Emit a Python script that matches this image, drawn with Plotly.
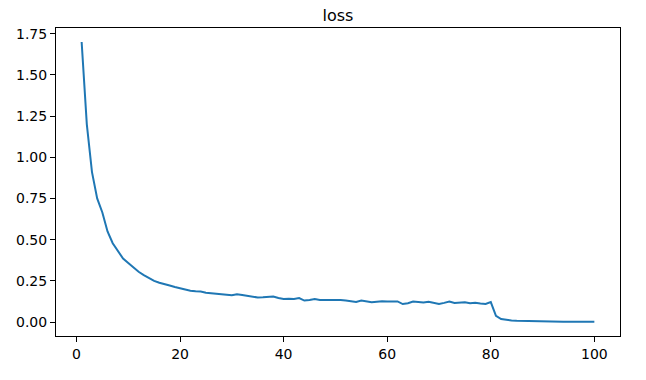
import plotly.graph_objects as go

epochs = list(range(1, 101))
loss = [
    1.700, 1.200, 0.910, 0.750, 0.665, 0.550, 0.478, 0.430, 0.385, 0.358,
    0.330, 0.305, 0.285, 0.265, 0.250, 0.238, 0.232, 0.222, 0.213, 0.205,
    0.197, 0.190, 0.186, 0.185, 0.178, 0.176, 0.173, 0.170, 0.166, 0.163,
    0.169, 0.164, 0.158, 0.156, 0.149, 0.150, 0.152, 0.155, 0.146, 0.140,
    0.141, 0.140, 0.145, 0.130, 0.134, 0.139, 0.133, 0.134, 0.132, 0.135,
    0.133, 0.130, 0.126, 0.122, 0.130, 0.127, 0.120, 0.123, 0.126, 0.124,
    0.124, 0.125, 0.109, 0.114, 0.124, 0.120, 0.118, 0.123, 0.117, 0.109,
    0.116, 0.124, 0.115, 0.116, 0.120, 0.114, 0.117, 0.113, 0.110, 0.121,
    0.038, 0.018, 0.012, 0.009, 0.007, 0.006, 0.005, 0.004, 0.0035, 0.003,
    0.0027, 0.0024, 0.0022, 0.002, 0.0018, 0.0016, 0.0014, 0.0013, 0.0012, 0.001,
]
x_ticks = [0, 20, 40, 60, 80, 100]
y_ticks = [0.00, 0.25, 0.50, 0.75, 1.00, 1.25, 1.50, 1.75]

fig = go.Figure(go.Scatter(x=epochs, y=loss, mode="lines",
                           line=dict(color="#1f77b4", width=2)))

fig.update_layout(
    width=646, height=380,
    margin=dict(l=56, r=26, t=28, b=44),
    paper_bgcolor="white", plot_bgcolor="white",
    font=dict(family="DejaVu Sans", size=14, color="black"),
    showlegend=False,
    title=dict(text="loss", x=0.5, xref="paper", xanchor="center",
               y=1 - 15 / 380, yref="container", yanchor="middle",
               font=dict(size=16, color="black")),
)
fig.update_xaxes(range=[-3.95, 104.95], tickvals=x_ticks, ticks="outside",
                 ticklen=5, tickwidth=1, tickcolor="black", showline=True,
                 linecolor="black", linewidth=1, mirror=True, showgrid=False,
                 zeroline=False)
fig.update_yaxes(range=[-0.085, 1.785], tickvals=y_ticks, tickformat=".2f",
                 ticks="outside", ticklen=5, tickwidth=1, tickcolor="black",
                 showline=True, linecolor="black", linewidth=1, mirror=True,
                 showgrid=False, zeroline=False)

fig.write_html("out.html")
